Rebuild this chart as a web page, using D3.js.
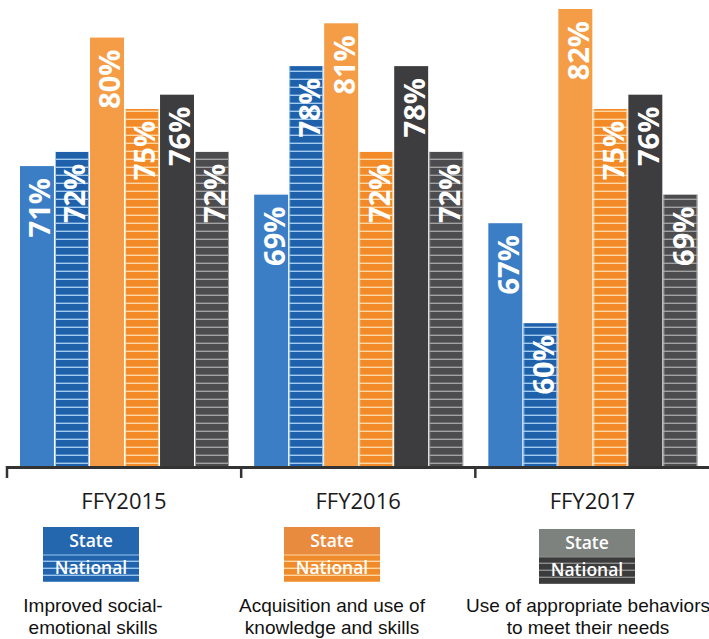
<!DOCTYPE html>
<html><head><meta charset="utf-8">
<script src="https://cdn.jsdelivr.net/npm/d3@7"></script>
<style>html,body{margin:0;padding:0;background:#fff;}svg{display:block;}</style>
</head><body>
<svg id="chart" width="709" height="639"></svg>
<script>
// ---- data ----
const categories = ["FFY2015", "FFY2016", "FFY2017"];
const seriesKeys = ["socialState", "socialNational", "knowledgeState", "knowledgeNational", "behaviorState", "behaviorNational"];
const socialState = [71, 69, 67];
const socialNational = [72, 78, 60];
const knowledgeState = [80, 81, 82];
const knowledgeNational = [75, 72, 75];
const behaviorState = [76, 78, 76];
const behaviorNational = [72, 72, 69];
const legendGroups = ["social", "knowledge", "behavior"];
const legendLabels = ["State", "National"];
const outcomeLines = [
  ["Improved social-", "emotional skills"],
  ["Acquisition and use of", "knowledge and skills"],
  ["Use of appropriate behaviors", "to meet their needs"]
];

const values = {socialState, socialNational, knowledgeState, knowledgeNational, behaviorState, behaviorNational};

const styles = {
  socialState: {fill: "#3b7ec5"},
  socialNational: {fill: "#1e60aa", stripe: "#a3ccf0"},
  knowledgeState: {fill: "#f59d46"},
  knowledgeNational: {fill: "#f28b27", stripe: "#fdd8a4"},
  behaviorState: {fill: "#3d3d3f"},
  behaviorNational: {fill: "#4c4c4e", stripe: "#a2a2a2"}
};
const legendStyles = {
  social: {state: "#2467af", nat: "#2164ad", stripe: "#9ac7ef"},
  knowledge: {state: "#e98b3e", nat: "#f08b2c", stripe: "#fdd6a0"},
  behavior: {state: "#7e827e", nat: "#3b3b3c", stripe: "#8e8e8e"}
};

const svg = d3.select("#chart");
const defs = svg.append("defs");
function stripePattern(id, base, stripe, period) {
  const p = defs.append("pattern").attr("id", id).attr("patternUnits", "userSpaceOnUse")
    .attr("width", 10).attr("height", period);
  p.append("rect").attr("width", 10).attr("height", period).attr("fill", base);
  p.append("rect").attr("y", period - 1.4).attr("width", 10).attr("height", 1.4).attr("fill", stripe);
}
seriesKeys.forEach(k => { if (styles[k].stripe) stripePattern("p-" + k, styles[k].fill, styles[k].stripe, 8); });
legendGroups.forEach(g => stripePattern("lp-" + g, legendStyles[g].nat, legendStyles[g].stripe, 7));

const baseY = 466;
const x0 = d3.scaleBand().domain(categories).range([7, 709.5]).padding(0);
const x1 = d3.scaleBand().domain(seriesKeys).range([13, 222]).paddingInner(0.03);
const y = d3.scaleLinear().domain([50, 82]).range([baseY, 9]);

// bars
const groups = svg.append("g").selectAll("g").data(categories).join("g")
  .attr("transform", d => `translate(${x0(d)},0)`);

groups.each(function(cat, ci) {
  const g = d3.select(this);
  seriesKeys.forEach(k => {
    const v = values[k][ci];
    const st = styles[k];
    const bx = x1(k), bw = x1.bandwidth();
    g.append("rect").attr("x", bx).attr("y", y(v)).attr("width", bw).attr("height", baseY - y(v))
      .attr("fill", st.stripe ? `url(#p-${k})` : st.fill);
    if (st.stripe) {
      g.append("line").attr("x1", bx + 0.5).attr("x2", bx + 0.5).attr("y1", y(v)).attr("y2", baseY)
        .attr("stroke", st.stripe).attr("stroke-width", 1);
      g.append("line").attr("x1", bx + bw - 0.5).attr("x2", bx + bw - 0.5).attr("y1", y(v)).attr("y2", baseY)
        .attr("stroke", st.stripe).attr("stroke-width", 1);
    }
    const cx = bx + bw / 2 + 3;
    g.append("text")
      .attr("transform", `translate(${cx},${y(v) + 12}) rotate(-90)`)
      .attr("text-anchor", "end")
      .attr("dy", "0.36em")
      .attr("fill", "#fff")
      .style("font-family", "'Open Sans', sans-serif")
      .style("font-weight", "700")
      .style("font-size", "29px")
      .text(v + "%");
  });
});

// axis line + ticks
const axis = svg.append("g");
axis.append("line").attr("x1", 6).attr("x2", 709).attr("y1", 467.5).attr("y2", 467.5)
  .attr("stroke", "#333").attr("stroke-width", 3);
categories.forEach(c => {
  axis.append("line").attr("x1", x0(c)).attr("x2", x0(c)).attr("y1", 466).attr("y2", 478)
    .attr("stroke", "#333").attr("stroke-width", 2.5);
});

// category labels
svg.append("g").selectAll("text").data(categories).join("text")
  .attr("x", d => x0(d) + 117).attr("y", 509)
  .attr("text-anchor", "middle")
  .attr("fill", "#1a1a1a")
  .style("font-family", "'Open Sans', sans-serif")
  .style("font-size", "22px")
  .text(d => d);

// legend boxes
const legendX = [43, 284, 539];
legendGroups.forEach((gk, i) => {
  const g = svg.append("g").attr("transform", `translate(${legendX[i]},${i === 2 ? 529 : 527})`);
  const ls = legendStyles[gk];
  g.append("rect").attr("width", 96).attr("height", 28).attr("fill", ls.state);
  g.append("rect").attr("y", 28).attr("width", 96).attr("height", 27).attr("fill", `url(#lp-${gk})`);
  g.append("line").attr("x1", 0).attr("x2", 96).attr("y1", 28).attr("y2", 28)
    .attr("stroke", ls.stripe).attr("stroke-width", 1.2);
  g.selectAll("text").data(legendLabels).join("text")
    .attr("x", 48).attr("y", (d, j) => j === 0 ? 20 : 47)
    .attr("text-anchor", "middle").attr("fill", "#fff")
    .style("font-family", "'Open Sans', sans-serif")
    .style("font-weight", "600")
    .style("font-size", "17.5px")
    .text(d => d);
});

// outcome descriptions
outcomeLines.forEach((lines, i) => {
  lines.forEach((ln, j) => {
    svg.append("text")
      .attr("x", [93, 332, 588][i]).attr("y", 612 + j * 22)
      .attr("text-anchor", "middle")
      .attr("fill", "#111")
      .style("font-family", "'Liberation Sans', Arial, sans-serif")
      .style("font-size", "19px")
      .text(ln);
  });
});
</script>
</body></html>
